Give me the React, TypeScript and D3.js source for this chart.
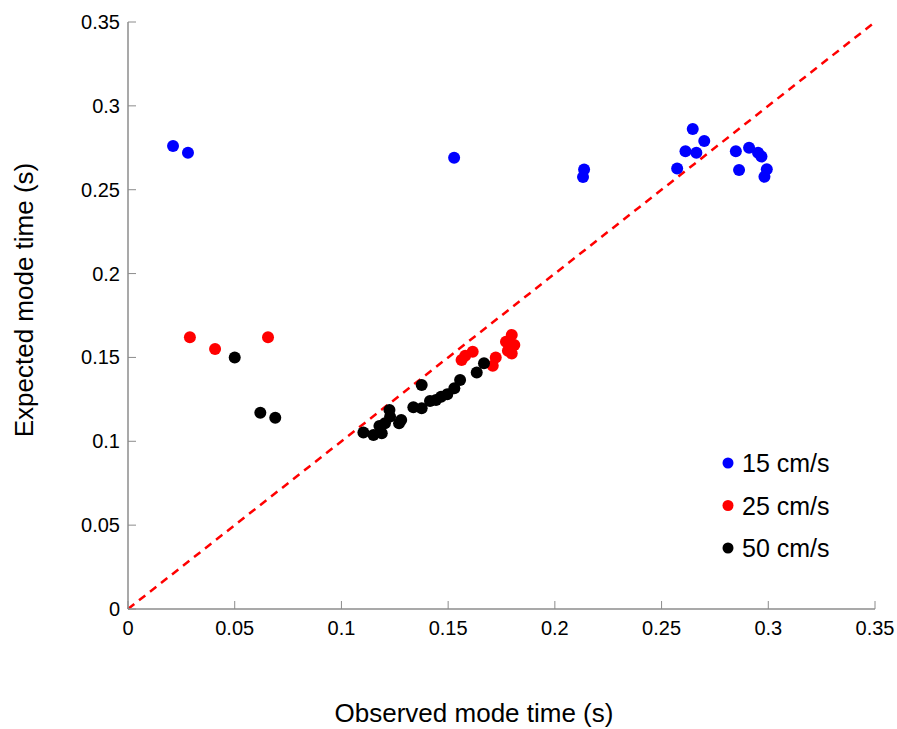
import React from "react";
import * as d3 from "d3";

const ticks = [0, 0.05, 0.1, 0.15, 0.2, 0.25, 0.3, 0.35];
const tickLabels = ["0", "0.05", "0.1", "0.15", "0.2", "0.25", "0.3", "0.35"];

const seriesNames = ["15 cm/s", "25 cm/s", "50 cm/s"];
const seriesColors = ["#0000ff", "#ff0000", "#000000"];

const blueX = [0.0211, 0.0281, 0.1528, 0.2137, 0.2132, 0.2646, 0.270, 0.2612, 0.2663, 0.2573, 0.2848, 0.291, 0.2952, 0.2968, 0.2863, 0.2993, 0.2982];
const blueY = [0.276, 0.272, 0.269, 0.262, 0.2576, 0.2862, 0.279, 0.273, 0.272, 0.2626, 0.273, 0.275, 0.272, 0.2698, 0.2618, 0.2622, 0.2578];

const redX = [0.029, 0.0408, 0.0656, 0.1798, 0.181, 0.1798, 0.1771, 0.178, 0.1615, 0.158, 0.1563, 0.1723, 0.1709];
const redY = [0.162, 0.155, 0.162, 0.1634, 0.1574, 0.1524, 0.1594, 0.154, 0.1534, 0.151, 0.1485, 0.150, 0.145];

const blackX = [0.050, 0.062, 0.069, 0.1668, 0.1634, 0.1556, 0.1529, 0.1496, 0.1467, 0.1443, 0.1415, 0.1376, 0.1376, 0.1337, 0.127, 0.128, 0.1225, 0.1228, 0.1204, 0.1178, 0.115, 0.1103, 0.1189];
const blackY = [0.150, 0.117, 0.114, 0.1465, 0.141, 0.1366, 0.1316, 0.128, 0.1266, 0.1246, 0.124, 0.1336, 0.1197, 0.1203, 0.1107, 0.1127, 0.1187, 0.1147, 0.1107, 0.1091, 0.1038, 0.1052, 0.1048];

const seriesX = [blueX, redX, blackX];
const seriesY = [blueY, redY, blackY];

export default function App() {
  const W = 897, H = 729;
  const x = d3.scaleLinear().domain([0, 0.35]).range([128, 875]);
  const y = d3.scaleLinear().domain([0, 0.35]).range([609, 22]);
  const font = "Arial, 'Liberation Sans', sans-serif";
  const axisColor = "#8c8c8c";

  return (
    <svg width={W} height={H} style={{ position: "absolute", left: 0, top: 0, background: "#fff" }} fontFamily={font}>
      {/* diagonal */}
      <line x1={x(0)} y1={y(0)} x2={x(0.35)} y2={y(0.35)} stroke="#ff0000" strokeWidth={2.5} strokeDasharray="8,6" />
      {/* axes */}
      <line x1={x(0)} y1={y(0)} x2={x(0.35)} y2={y(0)} stroke={axisColor} strokeWidth={1.5} />
      <line x1={x(0)} y1={y(0)} x2={x(0)} y2={y(0.35)} stroke={axisColor} strokeWidth={1.5} />
      {ticks.map((t, i) => (
        <g key={"xt" + i}>
          <line x1={x(t)} x2={x(t)} y1={y(0)} y2={y(0) - 8} stroke={axisColor} strokeWidth={1} />
          <text x={x(t)} y={y(0) + 26} textAnchor="middle" fontSize={20} fill="#000">{tickLabels[i]}</text>
        </g>
      ))}
      {ticks.map((t, i) => (
        <g key={"yt" + i}>
          <line x1={x(0)} x2={x(0) + 8} y1={y(t)} y2={y(t)} stroke={axisColor} strokeWidth={1} />
          <text x={x(0) - 8} y={y(t) + 7} textAnchor="end" fontSize={20} fill="#000">{tickLabels[i]}</text>
        </g>
      ))}
      {/* points */}
      {seriesX.map((xs, s) =>
        xs.map((v, i) => (
          <circle key={s + "-" + i} cx={x(v)} cy={y(seriesY[s][i])} r={6} fill={seriesColors[s]} />
        ))
      )}
      {/* legend */}
      {seriesNames.map((n, i) => (
        <g key={"lg" + i} transform={`translate(728, ${463 + i * 42.5})`}>
          <circle cx={0} cy={0} r={5.5} fill={seriesColors[i]} />
          <text x={14} y={9} fontSize={25} fill="#000">{n}</text>
        </g>
      ))}
      {/* axis titles */}
      <text x={474} y={722} textAnchor="middle" fontSize={26} fill="#000">Observed mode time (s)</text>
      <text transform="translate(33, 300) rotate(-90)" textAnchor="middle" fontSize={26} fill="#000">Expected mode time (s)</text>
    </svg>
  );
}
